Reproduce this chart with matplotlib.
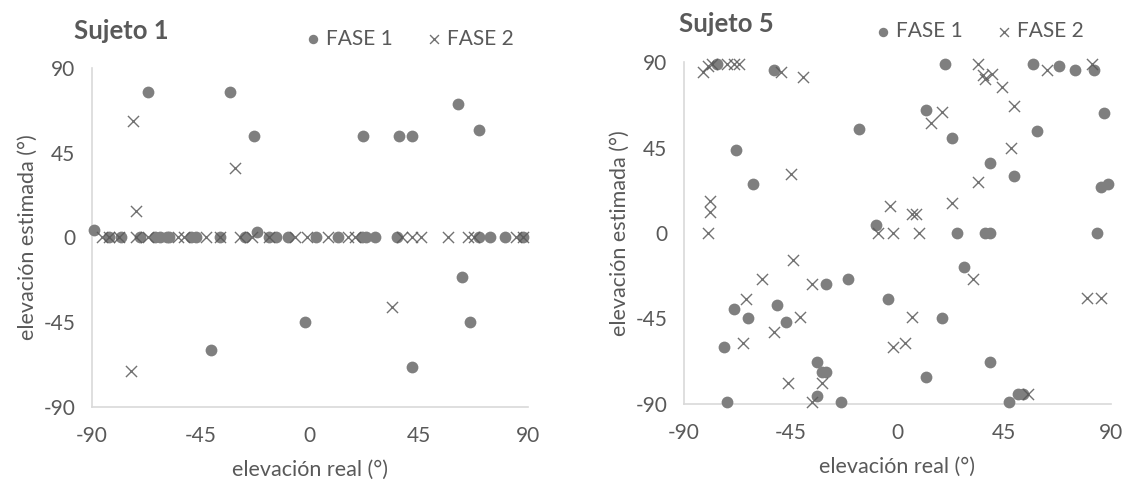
import matplotlib.pyplot as plt

plt.rcParams['font.family'] = ['Lato', 'DejaVu Sans']
plt.rcParams['axes.unicode_minus'] = False

# Sujeto 1
s1_f1_x = [-89, -67, -33, -23, -22, 22, 37, 42, 61, 70, -41, -2, 63, 66, 42,
           -83, -78, -70, -64, -62, -59, -58, -49, -47, -37, -27, -17, -14, -9,
           2.5, 11.6, 21.5, 23, 27, 36, 70, 74.5, 80.7, 88]
s1_f1_y = [4, 77, 77, 54, 3, 54, 54, 54, 71, 57, -60, -45, -21, -45, -69,
           0, 0, 0, 0, 0, 0, 0, 0, 0, 0, 0, 0, 0, 0,
           0, 0, 0, 0, 0, 0, 0, 0, 0, 0]
s1_f2_x = [-73, -31, -72, -74, 34,
           -86, -83, -79, -72, -67, -54.5, -52, -43, -37, -29, -24, -17, -6, -1,
           7.5, 15.8, 18.7, 38, 42, 46, 57, 65.4, 68, 85, 88]
s1_f2_y = [62, 37, 14, -71, -37,
           0, 0, 0, 0, 0, 0, 0, 0, 0, 0, 0, 0, 0, 0,
           0, 0, 0, 0, 0, 0, 0, 0, 0, 0, 0]

# Sujeto 5
s5_f1_x = [-76, -52, -16, -68, -61, -9, 20, 57, 68, 75, 83, 87, 12, 23, 59, 39,
           49, 86, 89, 25, 37, 39, 84, 28, -4, 19, 12, 39, 47, 51, 53, -30, -21,
           -69, -63, -51, -47, -73, -34, -32, -30, -34, -72, -24]
s5_f1_y = [89, 86, 55, 44, 26, 4, 89, 89, 88, 86, 86, 63, 65, 50, 54, 37,
           30, 24, 26, 0, 0, 0, 0, -18, -35, -45, -76, -68, -89, -85, -85, -27, -24,
           -40, -45, -38, -47, -60, -68, -73, -73, -86, -89, -89]
s5_f2_x = [-82, -80, -78, -72, -69, -67, -49, -40, -45, -79, -79, -80, -8, -3,
           34, 36, 37, 40, 44, 63, 82, 19, 14, 49, 48, 34, 23, 6, 8, -2, 9,
           32, 6, -2, 3, 80, 86, 55, -44, -57, -36, -64, -41, -52, -65, -46, -32, -36]
s5_f2_y = [85, 88, 89, 89, 89, 89, 85, 82, 31, 17, 11, 0, 0, 14,
           89, 83, 81, 84, 77, 86, 89, 64, 58, 67, 45, 27, 16, 10, 10, 0, 0,
           -24, -44, -60, -58, -34, -34, -85, -14, -24, -27, -35, -44, -52, -58, -79, -79, -89]

ticks = [-90, -45, 0, 45, 90]
gray_txt = '#595959'

fig = plt.figure(figsize=(11.26, 4.82), dpi=100)
ax1 = fig.add_axes([0.0817, 0.156, 0.387, 0.703])
ax2 = fig.add_axes([0.6075, 0.162, 0.379, 0.709])


def draw(ax, fx, fy, cx, cy, title, tx, ty, lx, ly):
    ax.scatter(fx, fy, s=72, color='#7f7f7f', marker='o', linewidths=0,
               clip_on=False, zorder=3, label='FASE 1')
    ax.scatter(cx, cy, s=64, color='#595959', marker='x', linewidths=1,
               alpha=0.85, clip_on=False, zorder=4, label='FASE 2')
    ax.set_xlim(-90, 90)
    ax.set_ylim(-90, 90)
    ax.set_xticks(ticks)
    ax.set_yticks(ticks)
    for s in ['top', 'right']:
        ax.spines[s].set_visible(False)
    for s in ['left', 'bottom']:
        ax.spines[s].set_color('#d9d9d9')
        ax.spines[s].set_linewidth(1.2)
    ax.tick_params(axis='x', length=0, labelsize=15, colors=gray_txt, pad=14)
    ax.tick_params(axis='y', length=0, labelsize=15, colors=gray_txt, pad=12)
    ax.set_xlabel('elevación real (°)', fontsize=15.5, color=gray_txt, labelpad=10)
    ax.set_ylabel('elevación estimada (°)', fontsize=15.5, color=gray_txt, labelpad=4)
    fig.text(tx, ty, title, fontsize=18.5, fontweight='bold', color=gray_txt,
             ha='left', va='center')
    leg = ax.legend(loc='center left', bbox_to_anchor=(lx, ly),
                    bbox_transform=fig.transFigure, ncol=2, frameon=False,
                    fontsize=15, handletextpad=0.0, columnspacing=1.4,
                    markerscale=0.8, borderpad=0, handlelength=1.2)
    for t in leg.get_texts():
        t.set_color(gray_txt)


draw(ax1, s1_f1_x, s1_f1_y, s1_f2_x, s1_f2_y, 'Sujeto 1', 0.066, 0.935, 0.258, 0.92)
draw(ax2, s5_f1_x, s5_f1_y, s5_f2_x, s5_f2_y, 'Sujeto 5', 0.603, 0.95, 0.764, 0.935)

fig.savefig('out.png', dpi=100)
